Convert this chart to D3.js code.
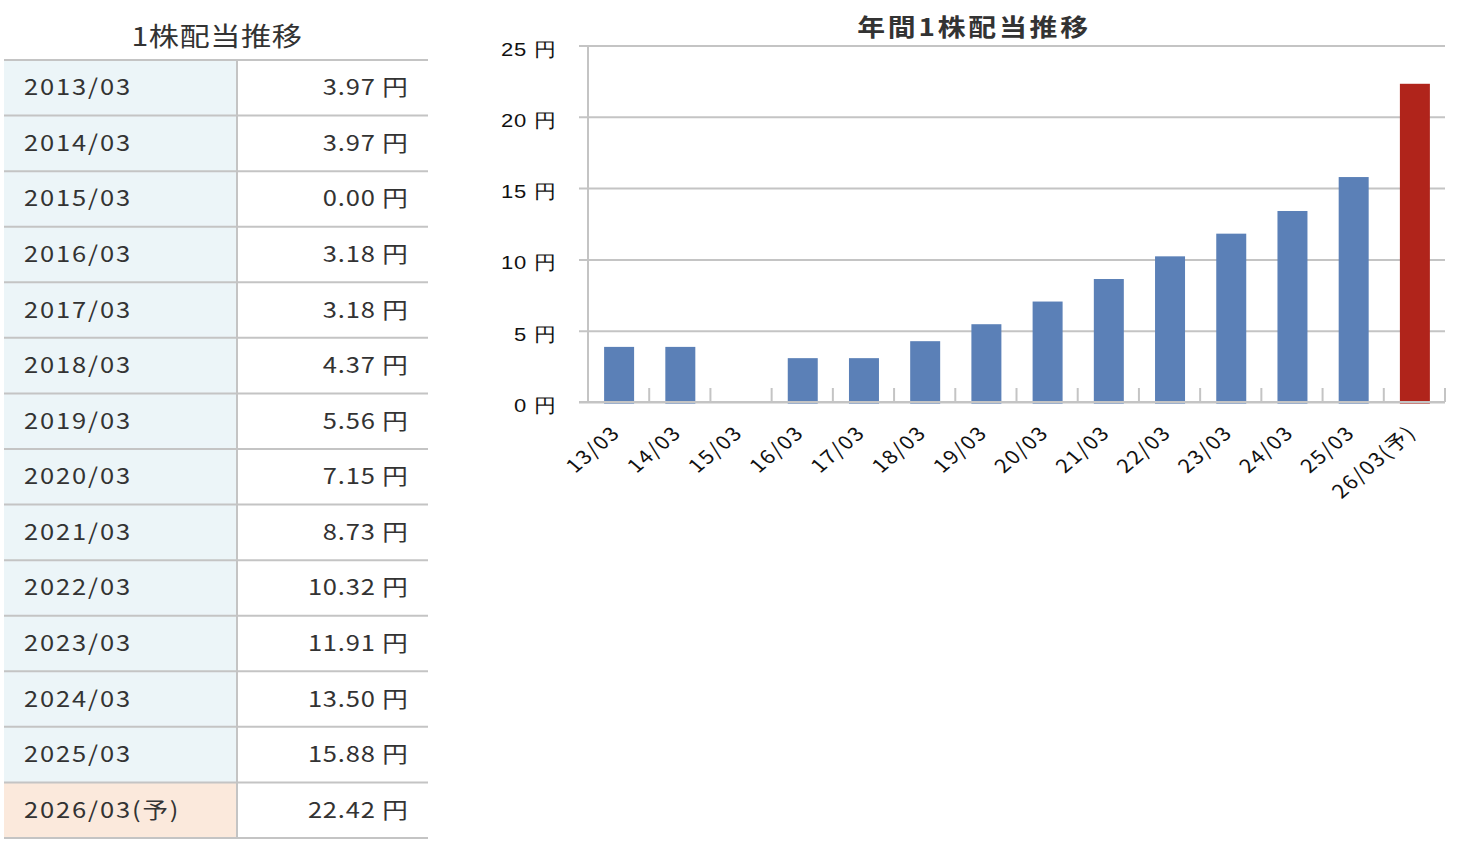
<!DOCTYPE html>
<html><head><meta charset="utf-8">
<script src="https://cdn.jsdelivr.net/npm/d3@7"></script>
<style>
html,body{margin:0;padding:0;background:#fff;}
svg{display:block;font-family:"Noto Sans CJK JP","Noto Sans",sans-serif;}
</style></head>
<body>
<svg id="c" width="1458" height="842"></svg>
<script>
const tableYears = ["2013/03","2014/03","2015/03","2016/03","2017/03","2018/03","2019/03","2020/03","2021/03","2022/03","2023/03","2024/03","2025/03","2026/03(予)"];
const categories = ["13/03","14/03","15/03","16/03","17/03","18/03","19/03","20/03","21/03","22/03","23/03","24/03","25/03","26/03(予)"];
const dividends = [3.97,3.97,0.00,3.18,3.18,4.37,5.56,7.15,8.73,10.32,11.91,13.50,15.88,22.42];
const forecast = [false,false,false,false,false,false,false,false,false,false,false,false,false,true];
const yTicks = [0,5,10,15,20,25];

const SX = 1.16; // horizontal stretch of glyphs
const svg = d3.select("#c");

// ---- Table ----
const tX0 = 4, tX1 = 428, tDiv = 237, tY0 = 60, tY1 = 838;
const rowScale = d3.scaleBand().domain(d3.range(tableYears.length)).range([tY0, tY1]);
svg.append("text").attr("transform", `translate(217,46) scale(${SX},1)`).attr("text-anchor","middle")
  .attr("font-size", 26).attr("letter-spacing", 0.5).attr("fill","#333").text("1株配当推移");
const rows = svg.append("g").selectAll("g").data(tableYears).join("g")
  .attr("transform", (d,i)=>`translate(0,${rowScale(i)})`);
rows.append("rect").attr("x", tX0).attr("width", tDiv - tX0).attr("height", rowScale.bandwidth())
  .attr("fill", (d,i)=> forecast[i] ? "#fbe9dc" : "#ecf5f8");
const rowBase = rowScale.bandwidth()/2 + 7.5;
rows.append("text").attr("transform", `translate(24,${rowBase}) scale(${SX},1)`)
  .attr("font-size", 22).attr("letter-spacing", 1.6).attr("fill","#333").text(d=>d);
rows.append("text").attr("transform", `translate(408.5,${rowBase}) scale(${SX},1)`).attr("text-anchor","end")
  .attr("font-size", 22).attr("letter-spacing", 0.7).attr("fill","#333").text((d,i)=> dividends[i].toFixed(2) + " 円");
const lineYs = d3.range(tableYears.length+1).map(i => i < tableYears.length ? rowScale(i) : tY1);
svg.append("g").selectAll("line").data(lineYs).join("line")
  .attr("x1", tX0).attr("x2", tX1).attr("y1", d=>d).attr("y2", d=>d)
  .attr("stroke","#c4c4c4").attr("stroke-width",2);
svg.append("line").attr("x1", tDiv).attr("x2", tDiv).attr("y1", tY0).attr("y2", tY1)
  .attr("stroke","#c4c4c4").attr("stroke-width",2);

// ---- Chart ----
const cL = 588, cR = 1445, cTop = 47, cBot = 403.5;
const x = d3.scaleBand().domain(categories).range([cL, cR]).paddingInner(0).paddingOuter(0);
const y = d3.scaleLinear().domain([0,25]).range([cBot, cTop]);
const gridShift = -1.5;

svg.append("text").attr("transform", `translate(974,36) scale(${SX},1)`).attr("text-anchor","middle")
  .attr("font-size", 24).attr("font-weight","bold").attr("letter-spacing", 2.4).attr("fill","#333").text("年間1株配当推移");

// gridlines + y labels
const yAxis = d3.axisLeft(y).tickValues(yTicks).tickSize(-(cR - 579)).tickFormat(d => d + " 円");
const gy = svg.append("g").attr("transform", `translate(579,${gridShift})`).call(yAxis);
gy.select(".domain").remove();
gy.selectAll(".tick line").attr("stroke","#c4c4c4").attr("stroke-width",2);
gy.selectAll(".tick text").each(function(){
  const t = d3.select(this);
  t.attr("x", null).attr("dy", null)
   .attr("transform", `translate(-22,9.5) scale(${SX},1)`)
   .attr("font-size", 19).attr("letter-spacing", 0.6).attr("fill","#111");
});

// y axis line
svg.append("line").attr("x1", cL).attr("x2", cL).attr("y1", y(25) + gridShift).attr("y2", y(0) + gridShift)
  .attr("stroke","#c4c4c4").attr("stroke-width",2);

// bars
const barW = x.bandwidth()*0.49;
svg.append("g").selectAll("rect").data(categories).join("rect")
  .attr("x", d => x(d) + x.bandwidth()/2 - barW/2 + 0.5)
  .attr("width", barW)
  .attr("y", (d,i) => y(dividends[i]))
  .attr("height", (d,i) => y(0) - y(dividends[i]))
  .attr("fill", (d,i) => forecast[i] ? "#b0241b" : "#5b80b7");

// x axis: boundary ticks pointing up
const base = y(0) + gridShift;
const boundaries = categories.map(c => x(c)).concat([cR]).slice(1);
svg.append("g").selectAll("line").data(boundaries).join("line")
  .attr("x1", d=>d).attr("x2", d=>d).attr("y1", base).attr("y2", base - 14)
  .attr("stroke","#c4c4c4").attr("stroke-width",2);
svg.append("line").attr("x1", cL - 9).attr("x2", cR).attr("y1", base).attr("y2", base)
  .attr("stroke","#c4c4c4").attr("stroke-width",2);

// x labels
svg.append("g").selectAll("text").data(categories).join("text")
  .attr("transform", d => `translate(${x(d) + x.bandwidth()/2 + 3},${base + 32}) scale(${SX},1) rotate(-45)`)
  .attr("text-anchor","end").attr("font-size", 19).attr("letter-spacing", 1.4).attr("fill","#111").text(d=>d);
</script>
</body></html>
